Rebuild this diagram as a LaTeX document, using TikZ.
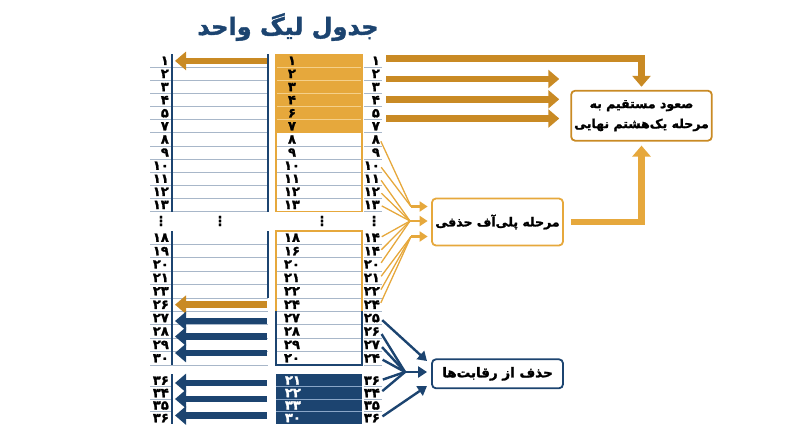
\documentclass[tikz,border=0pt]{standalone}
\usepackage{fontspec}
\usepackage{xcolor}
\usepackage{tikz}
\usetikzlibrary{arrows.meta,positioning,calc}
\TeXXeTstate=1
\newfontfamily\fa[Script=Arabic,BoldFeatures={FakeBold=1.6}]{DejaVu Sans}
\definecolor{navy}{HTML}{1C4470}
\definecolor{gold}{HTML}{E6A83C}
\definecolor{darkgold}{HTML}{C98A24}
\definecolor{sepgray}{HTML}{A8B7C9}
\definecolor{lightgold}{HTML}{F5D08A}
\definecolor{lightnavy}{HTML}{8AA6C8}

\begin{document}
\begin{tikzpicture}[x=1pt,y=-1pt, every node/.style={font=\fa\bfseries\fontsize{13}{13}\selectfont,inner sep=0pt}, num/.style={anchor=east}, rowline/.style={line width=.9pt}, vline/.style={navy,line width=1.6pt}, thk/.style={line width=6.5pt,-{Triangle[width=18pt,length=11pt]}}, fan/.style={gold,line width=1.3pt}, fanarr/.style={gold,line width=2.6pt,-{Triangle[width=10pt,length=8pt]}}, bfan/.style={navy,line width=2.4pt}, bfanarr/.style={navy,line width=2.4pt,-{Triangle[width=11pt,length=9pt]}}, stagebox/.style={draw,fill=white,line width=1.8pt,rounded corners=4pt,align=center,inner sep=3pt,font=\fa\bfseries\fontsize{12.5}{20}\selectfont}]
\useasboundingbox (0,0) rectangle (800,447);
\node[text=navy,font=\fa\bfseries\fontsize{24}{26}\selectfont] (title) at (288,27) {\beginR جدول لیگ واحد\endR};

% top block
\fill[gold] (276,54.3) rectangle (362,132.9);
\foreach \a/\b/\c/\s [count=\i] in {۱/۱/۱/lightgold,۲/۲/۲/lightgold,۳/۳/۳/lightgold,۴/۴/۴/lightgold,۵/۶/۵/lightgold,۷/۷/۷/gold,۸/۸/۸/sepgray,۹/۹/۹/sepgray,۱۰/۱۰/۱۰/sepgray,۱۱/۱۱/۱۱/sepgray,۱۲/۱۲/۱۲/sepgray,۱۳/۱۳/۱۳/gold}{
  \pgfmathsetmacro\yb{54.3+13.1*\i}
  \draw[rowline,sepgray] (150,\yb) -- (268,\yb) (364,\yb) -- (382,\yb);
  \draw[rowline,\s] (276,\yb) -- (362,\yb);
  \node[num] (l\i) at (169,\yb-6.55) {\a};
  \node (m\i) at (292,\yb-6.55) {\b};
  \node[num] (r\i) at (380,\yb-6.55) {\c};
}
\draw[gold,line width=1.6pt] (276,54.3) rectangle (362,211.5);
\draw[vline] (172,54.3) -- (172,211.5) (268,54.3) -- (268,211.5);

% dots
\node (dl) at (161,221) {⋮};
\node (dc) at (220,221) {⋮};
\node (dm) at (322,221) {⋮};
\node (dr) at (374,221) {⋮};

% middle block
\foreach \a/\b/\c/\s [count=\i from 13] in {۱۸/۱۸/۱۴/sepgray,۱۹/۱۶/۱۴/sepgray,۲۰/۲۰/۲۰/sepgray,۲۱/۲۱/۲۱/sepgray,۲۳/۲۲/۲۲/sepgray,۲۶/۲۴/۲۴/sepgray,۲۷/۲۷/۲۵/sepgray,۲۸/۲۸/۲۶/sepgray,۲۹/۲۹/۲۷/sepgray,۳۰/۲۰/۲۴/navy}{
  \pgfmathsetmacro\yb{231+13.4*(\i-12)}
  \draw[rowline,sepgray] (150,\yb) -- (268,\yb) (364,\yb) -- (382,\yb);
  \draw[rowline,\s] (276,\yb) -- (362,\yb);
  \node[num] (l\i) at (169,\yb-6.7) {\a};
  \node (m\i) at (292,\yb-6.7) {\b};
  \node[num] (r\i) at (380,\yb-6.7) {\c};
}
\draw[gold,line width=1.6pt] (276,311.4) -- (276,231) -- (362,231) -- (362,311.4);
\draw[navy,line width=1.6pt] (276,311.4) -- (276,365) -- (362,365) -- (362,311.4);
\draw[vline] (172,231) -- (172,365) (268,231) -- (268,298);

% bottom block
\fill[navy] (276,374.3) rectangle (362,424.3);
\foreach \a/\b/\c [count=\i from 23] in {۳۶/۲۱/۳۶,۳۴/۲۲/۳۴,۳۵/۳۳/۳۵,۳۶/۳۰/۳۶}{
  \pgfmathsetmacro\yb{374.3+12.5*(\i-22)}
  \ifnum\i<26
  \draw[rowline,sepgray] (150,\yb) -- (172,\yb) (364,\yb) -- (382,\yb);
  \draw[rowline,lightnavy] (276,\yb) -- (362,\yb);
  \fi
  \node[num] (l\i) at (169,\yb-6.25) {\a};
  \node[text=white] (m\i) at (293,\yb-6.25) {\b};
  \node[num] (r\i) at (380,\yb-6.25) {\c};
}
\draw[vline] (172,374.3) -- (172,424.3);

% arrows back into the league table
\foreach \y/\c [count=\k] in {60.9/darkgold,304.7/darkgold,321/navy,336.5/navy,353/navy,383/navy,399/navy,415.5/navy}{
  \coordinate (ls\k) at (267,\y);
  \coordinate (le\k) at (175,\y);
  \draw[thk,\c] (ls\k) -- (le\k);
}

% stages
\node[stagebox,draw=darkgold,minimum width=123pt,minimum height=50pt] (qual) at (641.5,115.7) {\beginR صعود مستقیم به\endR\\\beginR مرحله یک‌هشتم نهایی\endR};
\node[stagebox,draw=gold,minimum width=131pt,minimum height=47pt] (playoff) at (497.5,222) {\beginR مرحله پلی‌آف حذفی\endR};
\node[stagebox,draw=navy,minimum width=131pt,minimum height=29pt,font=\fa\bfseries\fontsize{13.5}{20}\selectfont] (elim) at (497.5,373.8) {\beginR حذف از رقابت‌ها\endR};

% direct qualification
\coordinate (q1) at (386,58.5);
\draw[thk,darkgold,shorten >=3pt] (q1) -| (qual.north);
\foreach \y [count=\k from 2] in {79,99.3,118.5}{
  \coordinate (q\k) at (386,\y);
  \draw[thk,darkgold,shorten >=11pt] (q\k) -- (q\k -| qual.west);
}
\draw[thk,gold,shorten <=7pt,shorten >=4pt] (playoff.east) -| (qual.south);

% playoff fan
\coordinate (ft) at (411,206.5);
\coordinate (fm) at (410,221);
\coordinate (fb) at (411,236.5);
\foreach \i in {7,9} \draw[fan,shorten <=2pt] (r\i.east) -- (ft);
\foreach \i in {10,...,15} \draw[fan,shorten <=2pt] (r\i.east) -- (fm);
\foreach \i in {16,17,18} \draw[fan,shorten <=2pt] (r\i.east) -- (fb);
\foreach \p in {ft,fm,fb} \draw[fanarr,shorten >=3.5pt] (\p) -- (\p -| playoff.west);

% elimination fan
\coordinate (bm) at (405,372);
\coordinate (bt) at (427,361);
\coordinate (bb) at (427,386);
\draw[bfanarr,shorten <=3pt] (r19.east) -- (bt);
\foreach \i in {20,21,22,23,24} \draw[bfan,shorten <=3pt] (r\i.east) -- (bm);
\draw[bfanarr,shorten >=4pt] (bm) -- (bm -| elim.west);
\draw[bfanarr,shorten <=3pt] (r26.east) -- (bb);
\end{tikzpicture}
\end{document}
